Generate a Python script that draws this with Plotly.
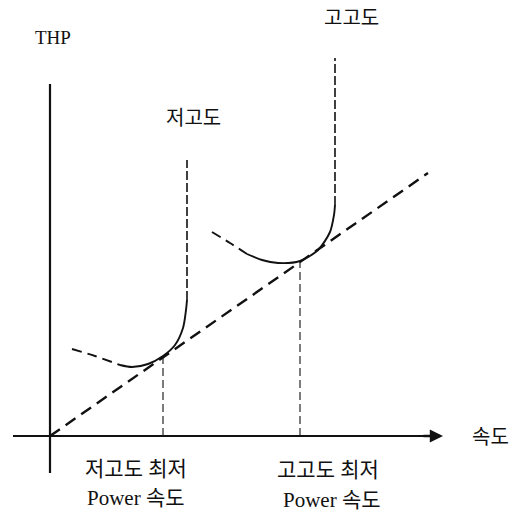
import plotly.graph_objects as go

# Coordinates in chart units (origin at axes crossing, x right, y up)
tangent_x = [0, 378]
tangent_y = [0, 263]

low_dash_x = [22, 45, 70]
low_dash_y = [87, 80, 71]
low_solid_x = [70, 82, 98, 113, 125, 133, 136, 137]
low_solid_y = [71, 69, 72, 80, 91, 108, 126, 136]
low_vert_x = [137, 137]
low_vert_y = [136, 276]

high_dash_x = [162, 180, 197]
high_dash_y = [204, 193, 182]
high_solid_x = [197, 212, 228, 250, 268, 280, 284, 285]
high_solid_y = [182, 176, 173, 175, 186, 204, 221, 231]
high_vert_x = [285, 285]
high_vert_y = [231, 378]

low_opt_x = 113
low_opt_y = 80
high_opt_x = 250
high_opt_y = 175

labels = ["THP", "저고도", "고고도", "속도", "저고도 최저", "Power 속도", "고고도 최저", "Power 속도"]
label_x = [3, 143, 301, 440, 86, 86, 278, 282]
label_y = [399, 318, 418, -1, -33, -62, -34, -64]
label_size = [19, 20, 20, 20, 21, 21, 21, 21]

FONT = "Liberation Serif, Noto Sans CJK KR, serif"
BLACK = "#111111"

fig = go.Figure()

def line(x, y, dash, width):
    fig.add_trace(go.Scatter(x=x, y=y, mode="lines", line=dict(color=BLACK, width=width, dash=dash, shape="spline", smoothing=0.8), hoverinfo="skip", showlegend=False))

line(tangent_x, tangent_y, "12px,7px", 2.4)
line(low_dash_x, low_dash_y, "10px,6px", 1.9)
line(low_solid_x, low_solid_y, "solid", 1.9)
line(low_vert_x, low_vert_y, "9px,3px", 1.6)
line(high_dash_x, high_dash_y, "10px,6px", 1.9)
line(high_solid_x, high_solid_y, "solid", 1.9)
line(high_vert_x, high_vert_y, "9px,3px", 1.6)
line([low_opt_x, low_opt_x], [0, low_opt_y], "8px,4px", 1.1)
line([high_opt_x, high_opt_x], [0, high_opt_y], "8px,4px", 1.1)

# axes
line([0, 0], [-37, 352], "solid", 2.2)
line([-37, 378], [0, 0], "solid", 2.2)
fig.add_annotation(x=393, y=0, ax=372, ay=0, xref="x", yref="y", axref="x", ayref="y",
                   showarrow=True, arrowhead=2, arrowsize=1.1, arrowwidth=2.4, arrowcolor=BLACK, text="")

for t, x, y, s in zip(labels, label_x, label_y, label_size):
    fig.add_annotation(x=x, y=y, xref="x", yref="y", text=t, showarrow=False,
                       font=dict(family=FONT, size=s, color=BLACK))

fig.update_xaxes(range=[-50, 467], visible=False)
fig.update_yaxes(range=[-75, 436], visible=False)
fig.update_layout(width=517, height=511, margin=dict(l=0, r=0, t=0, b=0),
                  plot_bgcolor="white", paper_bgcolor="white")
fig.write_html("out.html", config={"displayModeBar": False},
               post_script="document.body.style.margin='0';document.body.style.overflow='hidden';")
